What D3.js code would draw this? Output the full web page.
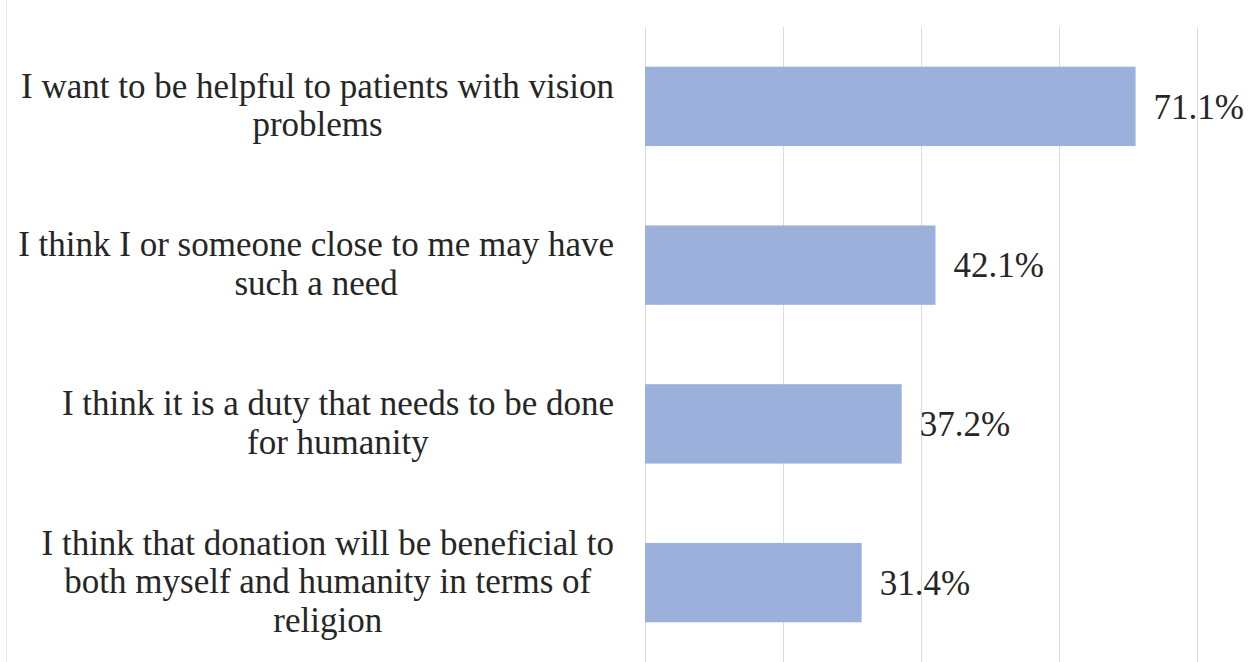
<!DOCTYPE html>
<html>
<head>
<meta charset="utf-8">
<script src="https://cdn.jsdelivr.net/npm/d3@7"></script>
<style>
  html, body { margin: 0; padding: 0; background: #fff; }
  svg { display: block; }
  text { font-family: "Liberation Serif", "Times New Roman", serif; fill: #262626; }
</style>
</head>
<body>
<svg id="chart" width="1253" height="662"></svg>
<script>
// Reasons given for donation (share of respondents, %)
const categories = [
  "helpful",
  "need",
  "duty",
  "religion"
];
const categoryLines = [
  ["I want to be helpful to patients with vision", "problems"],
  ["I think I or someone close to me may have", "such a need"],
  ["I think it is a duty that needs to be done", "for humanity"],
  ["I think that donation will be beneficial to", "both myself and humanity in terms of", "religion"]
];
const values = [71.1, 42.1, 37.2, 31.4];
const gridTicks = [0, 20, 40, 60, 80];

const svg = d3.select("#chart");
const W = 1253, H = 662;

const x = d3.scaleLinear().domain([0, 80]).range([645, 1197]);
const y = d3.scaleBand()
  .domain(categories)
  .range([27, H])
  .paddingInner(0.5)
  .paddingOuter(0.25);

// faint frame edge on the left
svg.append("line")
  .attr("x1", 6.5).attr("x2", 6.5)
  .attr("y1", 0).attr("y2", H)
  .attr("stroke", "#ececec").attr("stroke-width", 1);

// vertical gridlines
svg.append("g")
  .selectAll("line")
  .data(gridTicks)
  .join("line")
  .attr("x1", d => Math.round(x(d)) + 0.5)
  .attr("x2", d => Math.round(x(d)) + 0.5)
  .attr("y1", 27)
  .attr("y2", H)
  .attr("stroke", "#dcdcdc")
  .attr("stroke-width", 1);

// bars
svg.append("g")
  .selectAll("rect")
  .data(values)
  .join("rect")
  .attr("x", x(0))
  .attr("y", (d, i) => y(categories[i]))
  .attr("width", d => x(d) - x(0))
  .attr("height", y.bandwidth())
  .attr("fill", "#9bb1db");

// value labels
svg.append("g")
  .selectAll("text")
  .data(values)
  .join("text")
  .attr("x", d => x(d) + 18)
  .attr("y", (d, i) => y(categories[i]) + y.bandwidth() / 2)
  .attr("dy", "0.35em")
  .attr("font-size", 35)
  .text(d => d.toFixed(1) + "%");

// category labels: each block ends at a common right edge,
// with its lines centred within the block
const lineH = 38.5;
const labelRight = 614;
const lab = svg.append("g")
  .selectAll("text")
  .data(categories)
  .join("text")
  .attr("text-anchor", "middle")
  .attr("font-size", 35);
lab.each(function(c, i) {
  const lines = categoryLines[i];
  const cy = y(c) + y.bandwidth() / 2;
  const spans = d3.select(this).selectAll("tspan")
    .data(lines)
    .join("tspan")
    .attr("y", (l, j) => cy + (j - (lines.length - 1) / 2) * lineH)
    .attr("dy", "0.3em")
    .text(l => l);
  let maxW = 0;
  spans.each(function() { maxW = Math.max(maxW, this.getComputedTextLength()); });
  spans.attr("x", labelRight - maxW / 2);
});
</script>
</body>
</html>
